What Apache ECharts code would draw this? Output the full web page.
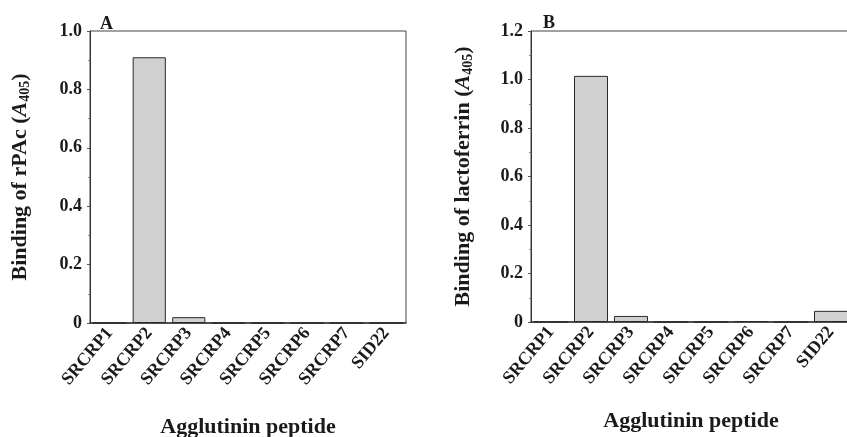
<!DOCTYPE html>
<html>
<head>
<meta charset="utf-8">
<script src="https://cdn.jsdelivr.net/npm/echarts@6/dist/echarts.min.js"></script>
<style>
  html, body { margin: 0; padding: 0; background: #fff; }
  #chart { width: 847px; height: 437px; }
</style>
</head>
<body>
<div id="chart"></div>
<script>
// Peptides tested in both binding assays
const peptides = ['SRCRP1', 'SRCRP2', 'SRCRP3', 'SRCRP4', 'SRCRP5', 'SRCRP6', 'SRCRP7', 'SID22'];

// Panel A: binding of rPAc (A405)
const rpacBinding = [0, 0.91, 0.02, 0, 0, 0, 0, 0];
// Panel B: binding of lactoferrin (A405)
const lactoferrinBinding = [0, 1.015, 0.025, 0, 0, 0.004, 0, 0.046];

// Y tick labels
const yTicksA = ['0', '0.2', '0.4', '0.6', '0.8', '1.0'];
const yTicksB = ['0', '0.2', '0.4', '0.6', '0.8', '1.0', '1.2'];

const FONT = '"Liberation Serif", "Times New Roman", serif';
const INK = '#1a1a1a';

function tickFormatter(ticks) {
  return function (v) {
    const i = Math.round(v / 0.2);
    return ticks[i] !== undefined ? ticks[i] : '';
  };
}

function yName(label) {
  return '{b|' + label + ' (}{i|A}{s|405}{b|)}';
}

const nameRich = {
  b: { fontFamily: FONT, fontWeight: 'bold', fontSize: 22, color: INK, lineHeight: 24 },
  i: { fontFamily: FONT, fontWeight: 'bold', fontStyle: 'italic', fontSize: 22, color: INK, lineHeight: 24 },
  s: { fontFamily: FONT, fontWeight: 'bold', fontSize: 14, color: INK, lineHeight: 14, verticalAlign: 'bottom' }
};

function yAxis(idx, max, ticks, margin, gap, label) {
  return {
    type: 'value',
    gridIndex: idx,
    min: 0,
    max: max,
    interval: 0.2,
    name: yName(label),
    nameLocation: 'middle',
    nameRotate: 90,
    nameGap: gap,
    nameTextStyle: { rich: nameRich },
    axisLine: { show: true, lineStyle: { color: '#333', width: 1 } },
    axisTick: { show: true, length: 3, inside: false, lineStyle: { color: '#555' } },
    minorTick: { show: true, splitNumber: 2, length: 2, lineStyle: { color: '#888' } },
    splitLine: { show: false },
    axisLabel: {
      margin: margin,
      fontFamily: FONT,
      fontWeight: 'bold',
      fontSize: 18,
      color: INK,
      formatter: tickFormatter(ticks)
    }
  };
}

function xAxis(idx, titleGap) {
  return {
    type: 'category',
    gridIndex: idx,
    data: peptides,
    name: 'Agglutinin peptide',
    nameLocation: 'middle',
    nameGap: titleGap,
    nameTextStyle: { fontFamily: FONT, fontWeight: 'bold', fontSize: 22, color: INK },
    axisLine: { show: true, lineStyle: { color: '#333', width: 1.5 } },
    axisTick: { show: false },
    axisLabel: {
      rotate: 50,
      interval: 0,
      margin: 7,
      fontFamily: FONT,
      fontWeight: 'bold',
      fontSize: 18,
      color: INK
    }
  };
}

const barStyle = { color: '#d0d0d0', borderColor: '#2a2a2a', borderWidth: 1 };

const gridBase = {
  show: true,
  borderColor: '#444',
  borderWidth: 1,
  backgroundColor: 'transparent',
  containLabel: false,
  outerBoundsMode: 'none'
};

const chart = echarts.init(document.getElementById('chart'), null, { renderer: 'canvas' });
chart.setOption({
  backgroundColor: '#fff',
  animation: false,
  title: [
    { text: 'A', left: 95, top: 10, textStyle: { fontFamily: FONT, fontWeight: 'bold', fontSize: 18, color: INK } },
    { text: 'B', left: 538, top: 9, textStyle: { fontFamily: FONT, fontWeight: 'bold', fontSize: 18, color: INK } }
  ],
  grid: [
    Object.assign({ left: 90, top: 31, right: 441, bottom: 114 }, gridBase),
    Object.assign({ left: 531, top: 31, right: -4, bottom: 115 }, gridBase)
  ],
  xAxis: [xAxis(0, 93), xAxis(1, 88)],
  yAxis: [
    yAxis(0, 1.0, yTicksA, 8, 58, 'Binding of rPAc'),
    yAxis(1, 1.2, yTicksB, 8, 56, 'Binding of lactoferrin')
  ],
  series: [
    { type: 'bar', xAxisIndex: 0, yAxisIndex: 0, data: rpacBinding, barCategoryGap: '16%', itemStyle: barStyle },
    { type: 'bar', xAxisIndex: 1, yAxisIndex: 1, data: lactoferrinBinding, barCategoryGap: '15%', itemStyle: barStyle }
  ]
});
</script>
</body>
</html>
